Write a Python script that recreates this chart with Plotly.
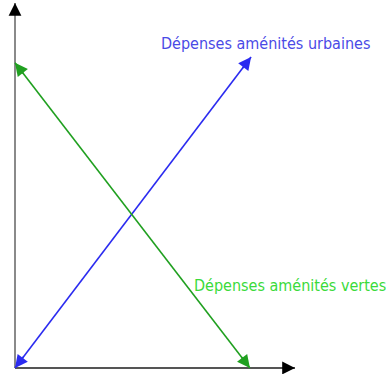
import plotly.graph_objects as go

# Schematic: spending on urban amenities rises, spending on green amenities falls
axis_len_x = 10.0
axis_len_y = 10.0

urbaines_x = [0.0, 8.43]
urbaines_y = [0.0, 8.52]
vertes_x = [0.0, 8.39]
vertes_y = [8.36, 0.0]

label_urbaines = "Dépenses aménités urbaines"
label_vertes = "Dépenses aménités vertes"
label_urbaines_pos = (8.96, 8.90)
label_vertes_pos = (9.82, 2.27)

BLUE_LINE = "#2b2bf0"
BLUE_TEXT = "#4a4ae6"
GREEN_LINE = "#20a020"
GREEN_TEXT = "#3ada3a"
FONT = "DejaVu Sans Condensed, Liberation Sans Narrow, sans-serif"

fig = go.Figure()

# axis lines
fig.add_trace(go.Scatter(x=[0, 0], y=[0, axis_len_y], mode="lines",
                         line=dict(color="#8a8a8a", width=2), hoverinfo="skip"))
fig.add_trace(go.Scatter(x=[0, axis_len_x], y=[0, 0], mode="lines",
                         line=dict(color="#555555", width=2), hoverinfo="skip"))

# the two spending lines
fig.add_trace(go.Scatter(x=urbaines_x, y=urbaines_y, mode="lines",
                         line=dict(color=BLUE_LINE, width=1.6), hoverinfo="skip"))
fig.add_trace(go.Scatter(x=vertes_x, y=vertes_y, mode="lines",
                         line=dict(color=GREEN_LINE, width=1.6), hoverinfo="skip"))


def head(x0, y0, x1, y1, color, frac=0.04):
    """Arrowhead at (x1, y1) pointing away from (x0, y0)."""
    bx = x1 - (x1 - x0) * frac
    by = y1 - (y1 - y0) * frac
    return dict(x=x1, y=y1, ax=bx, ay=by, xref="x", yref="y", axref="x", ayref="y",
                text="", showarrow=True, arrowhead=2, arrowsize=1.6, arrowwidth=1.6,
                arrowcolor=color, standoff=0, startstandoff=0)


annotations = [
    head(0, 0, 0, axis_len_y, "black", 0.02),
    head(0, 0, axis_len_x, 0, "black", 0.02),
    head(urbaines_x[0], urbaines_y[0], urbaines_x[1], urbaines_y[1], BLUE_LINE),
    head(urbaines_x[1], urbaines_y[1], urbaines_x[0], urbaines_y[0], BLUE_LINE),
    head(vertes_x[0], vertes_y[0], vertes_x[1], vertes_y[1], GREEN_LINE),
    head(vertes_x[1], vertes_y[1], vertes_x[0], vertes_y[0], GREEN_LINE),
    dict(x=label_urbaines_pos[0], y=label_urbaines_pos[1], xref="x", yref="y",
         text=label_urbaines, showarrow=False,
         font=dict(family=FONT, size=16, color=BLUE_TEXT)),
    dict(x=label_vertes_pos[0], y=label_vertes_pos[1], xref="x", yref="y",
         text=label_vertes, showarrow=False,
         font=dict(family=FONT, size=16, color=GREEN_TEXT)),
]

px_x = 28.0    # pixels per x unit
px_y = 36.5    # pixels per y unit
fig.update_layout(
    width=386, height=374,
    margin=dict(l=0, r=0, t=0, b=0),
    paper_bgcolor="white", plot_bgcolor="white",
    showlegend=False,
    annotations=annotations,
    xaxis=dict(range=[-15 / px_x, (386 - 15) / px_x], visible=False, fixedrange=True),
    yaxis=dict(range=[-6 / px_y, 368 / px_y], visible=False, fixedrange=True),
)

fig.write_html("out.html")
